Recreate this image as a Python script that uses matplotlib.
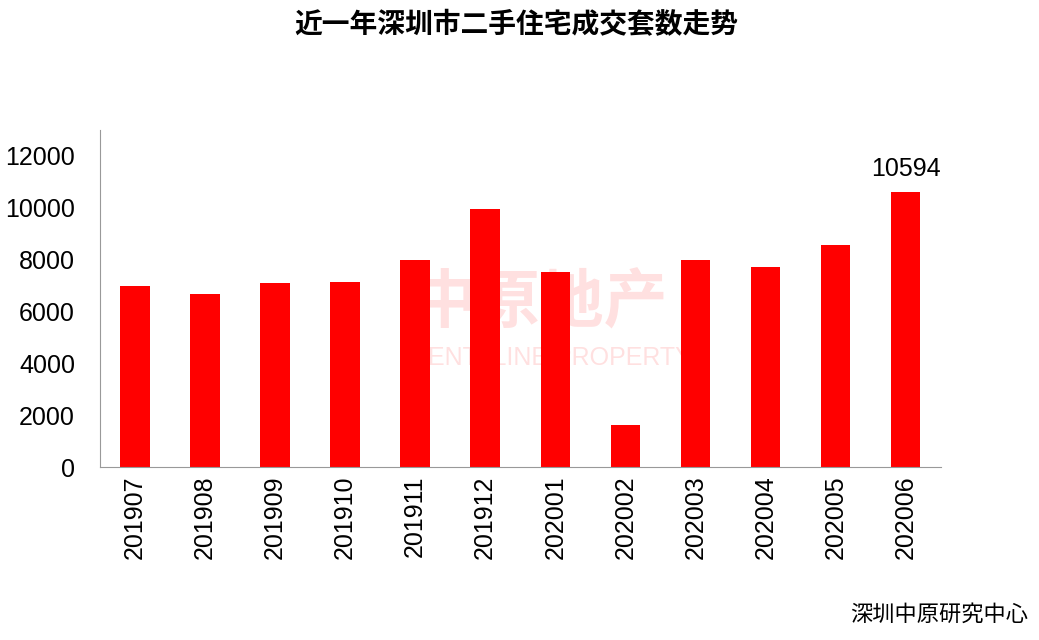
import matplotlib
matplotlib.use("Agg")
import matplotlib.pyplot as plt
from matplotlib import font_manager as fm

months = ["201907","201908","201909","201910","201911","201912",
          "202001","202002","202003","202004","202005","202006"]
volumes = [7000, 6660, 7090, 7120, 7980, 9970, 7510, 1640, 7980, 7700, 8550, 10594]

names = {f.name for f in fm.fontManager.ttflist}
cjk = [n for n in ["Noto Sans CJK SC", "Noto Sans CJK JP", "Noto Sans CJK TC", "Noto Sans CJK KR"] if n in names]
cjk = cjk[0] if cjk else "DejaVu Sans"

plt.rcParams["font.family"] = ["Liberation Sans", cjk]
fig = plt.figure(figsize=(10.39, 6.4), dpi=100)
ax = fig.add_axes([0.0962, 0.27, 0.809, 0.527])
x = range(len(months))
ax.bar(x, volumes, width=0.42, color="#ff0000", zorder=2)
ax.set_xlim(-0.5, len(months) - 0.5)
ax.set_ylim(0, 13000)
ax.set_yticks(range(0, 12001, 2000))
ax.set_xticks(list(x))
ax.set_xticklabels(months, rotation=90, fontsize=18)
ax.tick_params(axis="y", labelsize=18, length=0, pad=18)
ax.tick_params(axis="x", length=0, pad=6)
for s in ["top", "right"]:
    ax.spines[s].set_visible(False)
ax.spines["left"].set_color("#999999")
ax.spines["bottom"].set_color("#999999")
ax.annotate(str(volumes[-1]), (len(months) - 1, volumes[-1]), xytext=(0, 8),
            textcoords="offset points", ha="center", va="bottom", fontsize=18)
fig.text(0.497, 0.96, "近一年深圳市二手住宅成交套数走势", ha="center", va="center",
         fontsize=20, fontweight="bold", family=cjk)
fig.text(0.99, 0.04, "深圳中原研究中心", ha="right", va="center", fontsize=16, family=cjk)
fig.text(0.52, 0.525, "中原地产", ha="center", va="center", fontsize=46,
         color="#ff0000", alpha=0.12, family=cjk, fontweight="bold")
fig.text(0.53, 0.44, "CENTALINE PROPERTY", ha="center", va="center", fontsize=18,
         color="#ff0000", alpha=0.12)
fig.savefig("out.png", dpi=100)
